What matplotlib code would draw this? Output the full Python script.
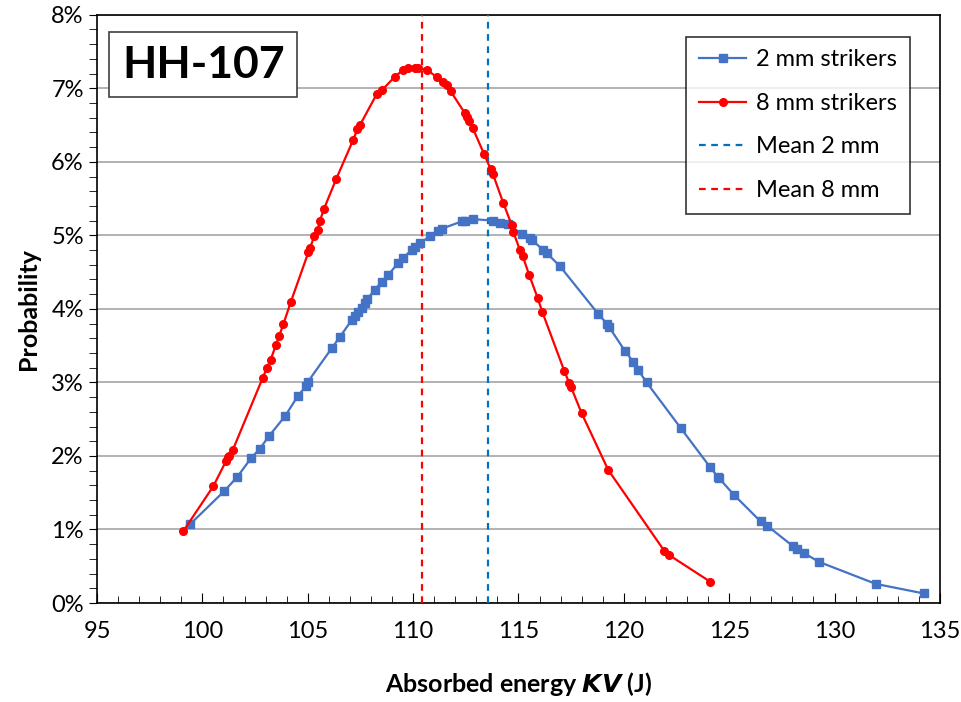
import matplotlib
matplotlib.use("Agg")
import matplotlib.pyplot as plt
from matplotlib.ticker import MultipleLocator, FuncFormatter

plt.rcParams['font.family'] = ['Lato', 'DejaVu Sans']

# 2 mm strikers
kv_2mm = [99.41, 101.03, 101.64, 102.31, 102.73, 103.16, 103.92, 104.54, 104.92, 105.01,
          106.15, 106.53, 107.09, 107.24, 107.40, 107.56, 107.72, 107.80, 108.19, 108.51,
          108.82, 109.30, 109.51, 109.93, 110.09, 110.33, 110.80, 111.19, 111.36, 112.31,
          112.46, 112.86, 113.80, 114.12, 114.50, 115.15, 115.55, 115.63, 116.18, 116.34,
          116.97, 118.79, 119.19, 119.31, 120.05, 120.45, 120.68, 121.08, 122.70, 124.09,
          124.45, 124.51, 125.23, 126.49, 126.81, 128.04, 128.23, 128.55, 129.26, 131.96,
          134.24]
p_2mm = [1.07, 1.52, 1.71, 1.97, 2.10, 2.27, 2.54, 2.82, 2.95, 3.01,
         3.47, 3.62, 3.85, 3.90, 3.96, 4.01, 4.08, 4.13, 4.26, 4.37,
         4.46, 4.63, 4.69, 4.80, 4.84, 4.89, 4.99, 5.06, 5.09, 5.19,
         5.20, 5.22, 5.20, 5.17, 5.15, 5.02, 4.96, 4.94, 4.80, 4.76,
         4.58, 3.93, 3.80, 3.75, 3.43, 3.28, 3.17, 3.00, 2.38, 1.85,
         1.72, 1.70, 1.47, 1.11, 1.05, 0.77, 0.74, 0.68, 0.56, 0.26,
         0.13]

# 8 mm strikers
kv_8mm = [99.10, 100.52, 101.12, 101.20, 101.26, 101.44, 102.86, 103.05, 103.24, 103.49,
          103.64, 103.84, 104.19, 105.03, 105.11, 105.31, 105.47, 105.58, 105.77, 106.34,
          107.16, 107.35, 107.48, 108.27, 108.51, 109.14, 109.53, 109.77, 110.09, 110.25,
          110.64, 111.15, 111.43, 111.59, 111.78, 112.46, 112.54, 112.67, 112.83, 113.36,
          113.68, 113.78, 114.28, 114.68, 114.75, 115.07, 115.20, 115.51, 115.91, 116.13,
          117.17, 117.41, 117.49, 118.00, 119.26, 121.92, 122.16, 124.10]
p_8mm = [0.98, 1.59, 1.93, 1.98, 2.00, 2.08, 3.06, 3.19, 3.31, 3.51,
         3.63, 3.79, 4.09, 4.77, 4.83, 4.99, 5.07, 5.20, 5.36, 5.76,
         6.30, 6.44, 6.50, 6.92, 6.97, 7.16, 7.25, 7.27, 7.28, 7.28,
         7.25, 7.15, 7.09, 7.05, 6.96, 6.66, 6.61, 6.55, 6.46, 6.11,
         5.90, 5.84, 5.44, 5.14, 5.05, 4.80, 4.72, 4.46, 4.15, 3.96,
         3.16, 2.99, 2.94, 2.58, 1.81, 0.71, 0.65, 0.29]

mean_2mm = 113.55
mean_8mm = 110.42

fig = plt.figure(figsize=(9.61, 7.02), dpi=100)
ax = fig.add_axes([0.101, 0.141, 0.877, 0.838])

ax.plot(kv_2mm, p_2mm, color='#4472C4', marker='s', markersize=5.5, lw=1.6,
        label='2 mm strikers', zorder=4)
ax.plot(kv_8mm, p_8mm, color='#FF0000', marker='o', markersize=5.5, lw=1.6,
        label='8 mm strikers', zorder=5)
ax.axvline(mean_2mm, color='#0070C0', ls=(0, (3, 2.5)), lw=1.6, label='Mean 2 mm', zorder=3)
ax.axvline(mean_8mm, color='#FF0000', ls=(0, (3, 2.5)), lw=1.6, label='Mean 8 mm', zorder=3)

ax.set_xlim(95, 135)
ax.set_ylim(0, 8)
ax.xaxis.set_major_locator(MultipleLocator(5))
ax.xaxis.set_minor_locator(MultipleLocator(1))
ax.yaxis.set_major_locator(MultipleLocator(1))
ax.yaxis.set_minor_locator(MultipleLocator(0.2))
ax.yaxis.set_major_formatter(FuncFormatter(lambda v, pos: f"{v:.0f}%"))
ax.tick_params(axis='x', which='both', direction='in', labelsize=17, pad=13)
ax.tick_params(axis='x', which='major', length=7)
ax.tick_params(axis='x', which='minor', length=5)
ax.tick_params(axis='y', which='both', direction='out', labelsize=17, length=6)
ax.grid(axis='y', which='major', color='#A6A6A6', lw=1.2)
for s in ax.spines.values():
    s.set_color('black')
    s.set_linewidth(1.2)

ax.set_xlabel('Absorbed energy $\\mathbfit{KV}$ (J)', fontsize=18, fontweight='bold', labelpad=20)
ax.set_ylabel('Probability', fontsize=18, fontweight='bold', labelpad=8)

ax.text(0.126, 0.915, 'HH-107', transform=ax.transAxes, fontsize=32, fontweight='bold',
        ha='center', va='center',
        bbox=dict(boxstyle='square,pad=0.28', fc='white', ec='#404040', lw=1.2))

leg = ax.legend(loc='upper right', bbox_to_anchor=(0.964, 0.963), fontsize=17,
                frameon=True, fancybox=False, edgecolor='black', handlelength=2.0,
                handletextpad=0.4, borderpad=0.55, labelspacing=0.95, borderaxespad=0)
leg.get_frame().set_linewidth(1.2)

fig.savefig('out.png', dpi=100)
